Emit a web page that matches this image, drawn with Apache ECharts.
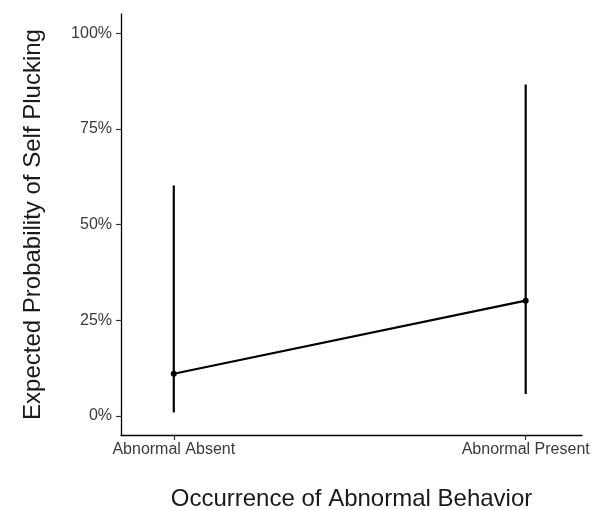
<!DOCTYPE html>
<html><head><meta charset="utf-8">
<script src="https://cdn.jsdelivr.net/npm/echarts@6/dist/echarts.min.js"></script>
<style>html,body{margin:0;padding:0;background:#fff}#c{width:601px;height:510px}</style>
</head><body><div id="c"></div>
<script>
const categories = ["Abnormal Absent", "Abnormal Present"];
const estimates = [0.110, 0.301];
const lower = [0.009, 0.057];
const upper = [0.602, 0.866];
const yTicks = [0, 0.25, 0.5, 0.75, 1];

const xPos = categories.map((c, i) => i + 1);
const chart = echarts.init(document.getElementById('c'));
const font = 'Liberation Sans, Arial, sans-serif';
chart.setOption({
  animation: false,
  grid: {left: 121, right: 19, top: 14, bottom: 75, outerBoundsMode: 'none', containLabel: false},
  xAxis: {
    type: 'value', min: 0.85, max: 2.16,
    name: 'Occurrence of Abnormal Behavior', nameLocation: 'middle', nameGap: 52,
    nameTextStyle: {fontFamily: font, fontSize: 24, color: '#1a1a1a'},
    axisLine: {onZero: false, lineStyle: {color: '#000', width: 1.3}},
    axisTick: {show: true, inside: false, length: 5, customValues: xPos, lineStyle: {color: '#333', width: 1.2}},
    axisLabel: {customValues: xPos, formatter: v => categories[Math.round(v) - 1] || '',
      fontFamily: font, fontSize: 16, color: '#3a3a3a', margin: 7},
    splitLine: {show: false}
  },
  yAxis: {
    type: 'value', min: -0.05, max: 1.05,
    name: 'Expected Probability of Self Plucking', nameLocation: 'middle', nameGap: 76,
    nameTextStyle: {fontFamily: font, fontSize: 24, color: '#1a1a1a'},
    axisLine: {show: true, onZero: false, lineStyle: {color: '#000', width: 1.3}},
    axisTick: {show: true, inside: false, length: 5, customValues: yTicks, lineStyle: {color: '#333', width: 1.2}},
    axisLabel: {customValues: yTicks, formatter: v => Math.round(v * 100) + '%',
      fontFamily: font, fontSize: 16, color: '#3a3a3a', margin: 9},
    splitLine: {show: false}
  },
  series: [
    {
      type: 'custom',
      data: xPos.map((x, i) => [x, lower[i], upper[i]]),
      renderItem: (params, api) => {
        const a = api.coord([api.value(0), api.value(1)]);
        const b = api.coord([api.value(0), api.value(2)]);
        return {type: 'line', shape: {x1: a[0], y1: a[1], x2: b[0], y2: b[1]},
          style: {stroke: '#000', lineWidth: 2.2}};
      },
      z: 2
    },
    {
      type: 'line',
      data: xPos.map((x, i) => [x, estimates[i]]),
      lineStyle: {color: '#000', width: 2.2},
      itemStyle: {color: '#000'},
      symbol: 'circle', symbolSize: 6, showSymbol: true,
      z: 3
    }
  ]
});
</script></body></html>
